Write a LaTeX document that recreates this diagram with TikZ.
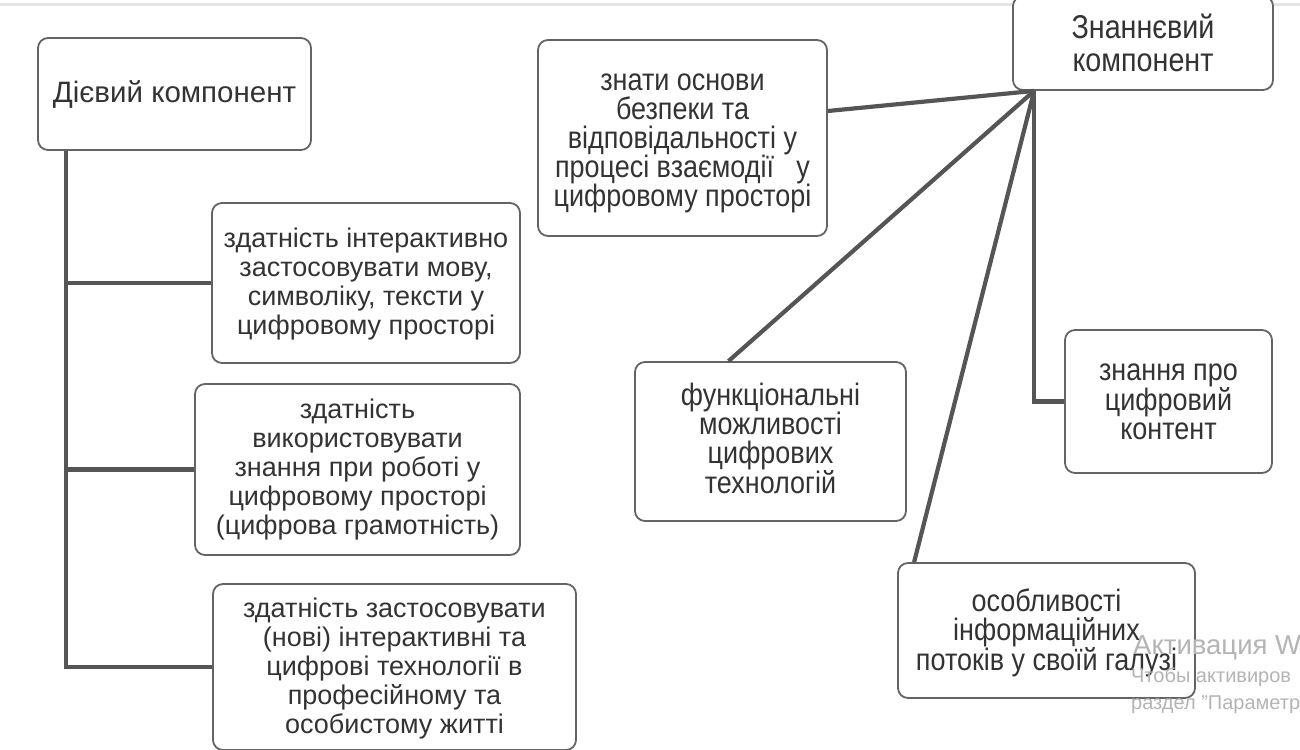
\documentclass[tikz,border=0pt]{standalone}
\usepackage{fontspec}
\setmainfont{Liberation Sans}
\newfontfamily\narrowf[FakeStretch=0.87]{Liberation Sans}
\usetikzlibrary{calc}
\definecolor{ln}{HTML}{555555}
\definecolor{bd}{HTML}{646464}
\definecolor{tx}{HTML}{333333}
\definecolor{wm}{HTML}{B4B4B4}
\begin{document}
\begin{tikzpicture}[x=1pt,y=-1pt,
  frame/.style={draw=bd, line width=1.8pt, rounded corners=10pt, fill=white, inner sep=0pt},
  ltxt/.style={align=center, text=tx, inner sep=0pt, anchor=south, text depth=0pt, font=\fontsize{27}{29}\selectfont},
  rtxt/.style={ltxt, font=\narrowf\fontsize{31}{29}\selectfont},
  conn/.style={draw=ln, line width=4.2pt},
  wmark/.style={text=wm, anchor=west, inner sep=0pt}]
\useasboundingbox (0,0) rectangle (1300,749);
\clip (0,0) rectangle (1300,749);
\fill[white] (0,0) rectangle (1300,749);
\draw[gray!20, line width=3pt] (0,5) -- (1300,5);

% left group
\node[frame, minimum width=273pt, minimum height=112pt] (diev) at (174.5,94) {};
\node[ltxt, font=\fontsize{29.5}{30}\selectfont] (diev-t) at (174.5,103) {Дієвий компонент};
\node[frame, minimum width=308pt, minimum height=160pt] (b2) at (366,283) {};
\node[ltxt] (b2-t) at (366,335) {здатність інтерактивно\\застосовувати мову,\\символіку, тексти у\\цифровому просторі};
\node[frame, minimum width=325pt, minimum height=171pt] (b3) at (357.5,469.5) {};
\node[ltxt] (b3-t) at (357.5,535) {здатність\\використовувати\\знання при роботі у\\цифровому просторі\\(цифрова грамотність)};
\node[frame, minimum width=363pt, minimum height=166pt] (b4) at (394.5,667) {};
\node[ltxt] (b4-t) at (394.5,734) {здатність застосовувати\\(нові) інтерактивні та\\цифрові технології в\\професійному та\\особистому житті};

\coordinate (t) at ([xshift=29pt]diev.south west);
\draw[conn] (t) |- (b4.west);
\draw[conn] (t |- b2.west) -- (b2.west);
\draw[conn] (t |- b3.west) -- (b3.west);

% right group
\node[frame, minimum width=260pt, minimum height=94pt] (znan) at (1143,43) {};
\node[rtxt, font=\narrowf\fontsize{33}{33}\selectfont] (znan-t) at (1143,72) {Знаннєвий\\компонент};
\node[frame, minimum width=289pt, minimum height=196pt] (zn) at (682.5,138) {};
\node[rtxt] (zn-t) at (682.5,207) {знати основи\\безпеки та\\відповідальності у\\процесі взаємодії~~ у\\цифровому просторі};
\node[frame, minimum width=271pt, minimum height=159pt] (funk) at (770.5,441.5) {};
\node[rtxt] (funk-t) at (770.5,494) {функціональні\\можливості\\цифрових\\технологій};
\node[frame, minimum width=207pt, minimum height=143pt] (znp) at (1168.5,401.5) {};
\node[rtxt] (znp-t) at (1168.5,440) {знання про\\цифровий\\контент};
\node[frame, minimum width=297pt, minimum height=135pt] (osob) at (1046.5,630.5) {};
\node[rtxt] (osob-t) at (1046.5,671) {особливості\\інформаційних\\потоків у своїй галузі};

\coordinate (hub) at ([xshift=22pt]znan.south west);
\draw[conn] ([yshift=27pt]zn.east) -- (hub);
\draw[conn] ([xshift=-42pt]funk.north) -- (hub);
\draw[conn] ([xshift=17pt]osob.north west) -- (hub);
\draw[conn] (hub) |- (znp.west);

% watermark
\node[wmark, font=\fontsize{27.5}{27.5}\selectfont] (w1) at (1133,648) {Активация W};
\node[wmark, font=\fontsize{20}{20}\selectfont] (w2) at (1131,677) {Чтобы активиров};
\node[wmark, font=\fontsize{20}{20}\selectfont] (w3) at (1131,705) {раздел "Параметр};
\end{tikzpicture}
\end{document}
